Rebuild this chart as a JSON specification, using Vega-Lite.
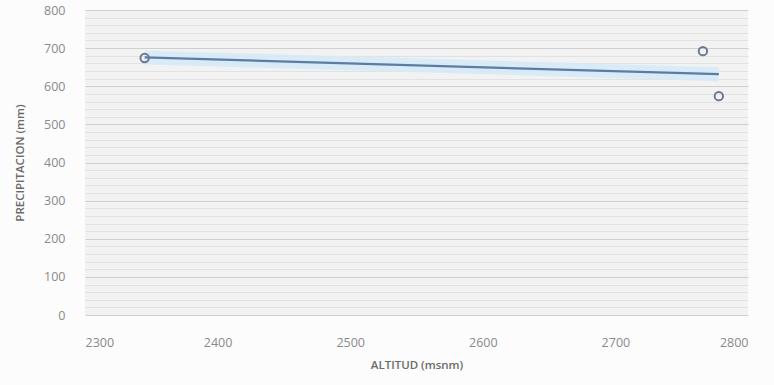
{
  "$schema": "https://vega.github.io/schema/vega-lite/v6.json",
  "width": 663,
  "height": 305,
  "autosize": "none",
  "padding": {"left": 85, "top": 10, "right": 26, "bottom": 70},
  "background": "#fcfcfc",
  "view": {"fill": "#f2f2f2", "stroke": null},
  "data": {"values": [
    {"altitud": 2345, "precip": 674},
    {"altitud": 2766, "precip": 692},
    {"altitud": 2778, "precip": 574}
  ]},
  "encoding": {
    "x": {"field": "altitud", "type": "quantitative",
      "scale": {"domain": [2300, 2800], "nice": false, "zero": false},
      "axis": {"title": "ALTITUD (msnm)", "values": [2300, 2400, 2500, 2600, 2700, 2800], "format": "d",
        "grid": false, "domain": false, "ticks": false, "labelPadding": 21,
        "labelFontSize": 12.5, "labelColor": "#8a8a8a", "labelFont": "Open Sans",
        "titleFont": "Open Sans", "titleFontSize": 11.5, "titleFontWeight": 600,
        "titleColor": "#6a6a6a", "titlePadding": 11}},
    "y": {"field": "precip", "type": "quantitative",
      "scale": {"domain": [0, 800], "nice": false},
      "axis": {"title": "PRECIPITACION (mm)",
        "values": [0,20,40,60,80,100,120,140,160,180,200,220,240,260,280,300,320,340,360,380,400,420,440,460,480,500,520,540,560,580,600,620,640,660,680,700,720,740,760,780,800],
        "labelExpr": "datum.value % 100 === 0 ? datum.label : ''",
        "grid": true,
        "gridColor": {"condition": {"test": "datum.value % 100 === 0", "value": "#cfcfcf"}, "value": "#e2e2e2"},
        "domain": false, "ticks": false, "labelPadding": 20,
        "labelFontSize": 12.5, "labelColor": "#8a8a8a", "labelFont": "Open Sans",
        "titleFont": "Open Sans", "titleFontSize": 11.5, "titleFontWeight": 600,
        "titleColor": "#6a6a6a", "titlePadding": 18}}
  },
  "layer": [
    {
      "transform": [{"regression": "precip", "on": "altitud"}],
      "mark": {"type": "line", "color": "#d6eaf9", "strokeWidth": 14, "opacity": 0.85, "strokeCap": "butt"}
    },
    {
      "transform": [{"regression": "precip", "on": "altitud"}],
      "mark": {"type": "line", "color": "#5b7da3", "strokeWidth": 2.2}
    },
    {
      "mark": {"type": "point", "shape": "circle", "filled": false, "stroke": "#6a7891", "strokeWidth": 2, "size": 70, "opacity": 1}
    }
  ]
}
